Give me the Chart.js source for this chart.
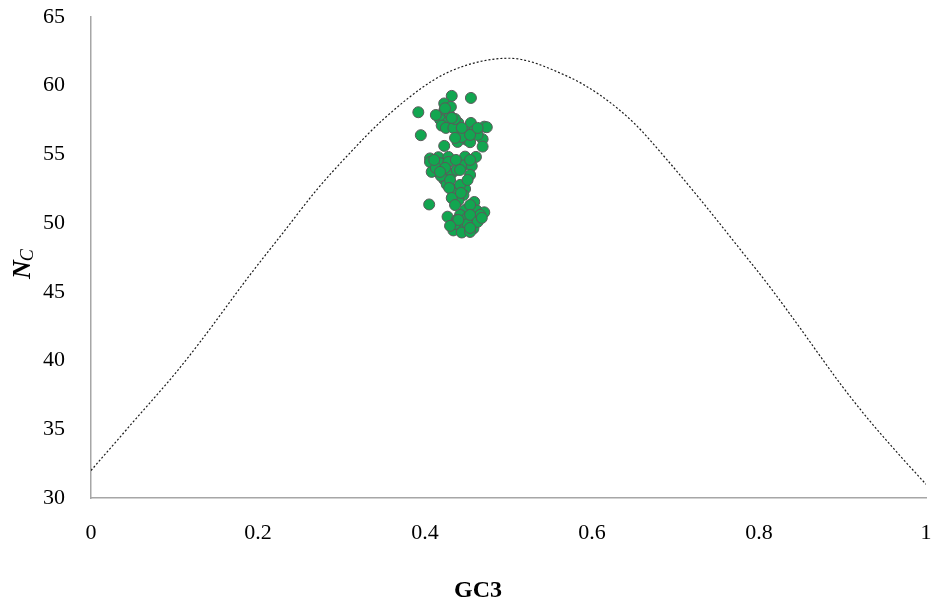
<!DOCTYPE html>
<html>
<head>
<meta charset="utf-8">
<script src="https://cdn.jsdelivr.net/npm/chart.js@4/dist/chart.umd.min.js"></script>
<style>
  html, body { margin: 0; padding: 0; background: #ffffff; }
  #wrap { width: 935px; height: 614px; }
</style>
</head>
<body>
<div id="wrap"><canvas id="c" width="935" height="614"></canvas></div>
<script>
// Expected Nc curve
const curveGC3 = [0, 0.05, 0.10, 0.13, 0.19, 0.23, 0.27, 0.31, 0.35, 0.41, 0.45, 0.50, 0.57, 0.61, 0.65, 0.69, 0.73, 0.78, 0.81, 0.85, 0.87, 0.90, 0.93, 0.97, 1.0];
const curveNc  = [32.0, 35.5, 39.0, 41.3, 46.2, 49.3, 52.4, 55.1, 57.55, 60.4, 61.5, 62.0, 60.7, 59.3, 57.3, 54.6, 51.7, 47.9, 45.6, 42.3, 40.6, 38.1, 35.8, 33.0, 31.0];

// Observed genes (GC3, Nc)
const geneGC3 = [
  0.432, 0.455, 0.392, 0.423, 0.423, 0.430, 0.418, 0.428, 0.440, 0.455,
  0.420, 0.471, 0.474, 0.395, 0.441, 0.450, 0.459, 0.450, 0.469, 0.439,
  0.454, 0.469, 0.423, 0.406, 0.416, 0.428, 0.448, 0.461,
  0.413, 0.425, 0.434, 0.444, 0.463, 0.431, 0.436,
  0.424, 0.432, 0.444, 0.454, 0.463, 0.436,
  0.406, 0.418, 0.428, 0.446, 0.456, 0.408, 0.432, 0.454, 0.423, 0.426,
  0.436, 0.448, 0.438, 0.446, 0.440, 0.459, 0.405,
  0.413, 0.438, 0.419, 0.430, 0.434, 0.442, 0.451,
  0.411, 0.437, 0.454, 0.424, 0.442, 0.418,
  0.429, 0.432, 0.443, 0.436,
  0.448, 0.462, 0.471, 0.427, 0.442, 0.450, 0.460, 0.442, 0.434, 0.448,
  0.458, 0.442, 0.438, 0.454,
  0.444, 0.451, 0.436, 0.454, 0.466,
  0.454, 0.463, 0.440, 0.454, 0.468, 0.430
];
const geneNc = [
  59.26, 59.11, 58.07, 58.71, 58.17, 57.80, 57.55, 57.37, 57.29, 57.29,
  57.10, 57.02, 56.98, 56.40, 56.60, 56.60, 56.71, 56.06, 56.11, 55.91,
  55.89, 55.57, 55.62, 54.71, 54.80, 54.82, 54.84, 54.82,
  57.87, 56.93, 56.93, 56.27, 56.42, 58.46, 57.58,
  58.36, 57.66, 56.93, 56.42, 56.93, 56.20,
  54.45, 54.36, 54.45, 54.20, 54.16, 53.73, 53.63, 53.51, 53.18, 52.82,
  52.42, 52.49, 51.91, 52.05, 51.65, 51.54, 51.36,
  54.02, 53.87, 53.44, 53.14, 52.20, 52.78, 53.14,
  54.60, 54.60, 54.60, 54.02, 53.87, 53.73,
  52.56, 51.83, 52.20, 51.32,
  50.96, 50.92, 50.79, 50.47, 50.60, 50.36, 50.23, 49.99, 49.47, 49.51,
  49.61, 49.75, 50.23, 51.32,
  49.32, 49.94, 49.94, 49.36, 50.60,
  50.60, 50.09, 50.23, 49.65, 50.38, 49.80
];

const xTickValues = [0, 0.2, 0.4, 0.6, 0.8, 1];
const yTickValues = [30, 35, 40, 45, 50, 55, 60, 65];
const xTitle = 'GC3';
const yTitleMain = 'N';
const yTitleSub = 'C';

const SERIF = "'Liberation Serif', 'Times New Roman', serif";

const curvePoints = curveGC3.map((x, i) => ({ x: x, y: curveNc[i] }));
const genePoints = geneGC3.map((x, i) => ({ x: x, y: geneNc[i] }));

const titlePlugin = {
  id: 'axisTitles',
  afterDraw(chart) {
    const ctx = chart.ctx;
    ctx.save();
    ctx.fillStyle = '#000000';
    // x title
    ctx.font = 'bold 24px ' + SERIF;
    ctx.textAlign = 'center';
    ctx.textBaseline = 'alphabetic';
    ctx.fillText(xTitle, 478, 597);
    // y title, rotated
    ctx.translate(30, 279);
    ctx.rotate(-Math.PI / 2);
    ctx.textAlign = 'left';
    ctx.font = 'bold italic 26px ' + SERIF;
    ctx.fillText(yTitleMain, 0, 0);
    const w = ctx.measureText(yTitleMain).width;
    ctx.font = 'italic 18px ' + SERIF;
    ctx.fillText(yTitleSub, w - 1, 3);
    ctx.restore();
  }
};

const hiddenGrid = (len) => ({
  display: true,
  drawOnChartArea: false,
  drawTicks: true,
  tickLength: len,
  color: 'rgba(0,0,0,0)',
  tickColor: 'rgba(0,0,0,0)'
});

new Chart(document.getElementById('c'), {
  type: 'scatter',
  data: {
    datasets: [
      {
        label: 'Genes',
        data: genePoints,
        backgroundColor: '#12a650',
        borderColor: '#5a5a5a',
        borderWidth: 1,
        pointRadius: 5.5,
        pointHoverRadius: 5.5,
        order: 1
      },
      {
        label: 'Expected',
        data: curvePoints,
        showLine: true,
        pointRadius: 0,
        borderColor: '#1a1a1a',
        borderWidth: 1.2,
        borderDash: [2, 2],
        cubicInterpolationMode: 'monotone',
        fill: false,
        order: 2
      }
    ]
  },
  options: {
    responsive: false,
    animation: false,
    devicePixelRatio: 1,
    layout: { padding: { top: 17, right: 9, left: 0, bottom: 0 } },
    plugins: {
      legend: { display: false },
      tooltip: { enabled: false },
      title: { display: false }
    },
    scales: {
      x: {
        type: 'linear',
        min: 0,
        max: 1,
        afterBuildTicks: (s) => { s.ticks = xTickValues.map(v => ({ value: v })); },
        afterFit: (s) => { s.height = 116; },
        ticks: {
          color: '#000000',
          font: { family: SERIF, size: 22 },
          padding: 0,
          maxRotation: 0,
          callback: (v) => String(+Number(v).toFixed(1))
        },
        grid: hiddenGrid(22),
        border: { display: true, color: '#a6a6a6', width: 1.5 }
      },
      y: {
        type: 'linear',
        min: 30,
        max: 65,
        afterBuildTicks: (s) => { s.ticks = yTickValues.map(v => ({ value: v })); },
        afterFit: (s) => { s.width = 91; },
        ticks: {
          color: '#000000',
          font: { family: SERIF, size: 22 },
          padding: 0
        },
        grid: hiddenGrid(26),
        border: { display: true, color: '#a6a6a6', width: 1.5 }
      }
    }
  },
  plugins: [titlePlugin]
});
</script>
</body>
</html>
